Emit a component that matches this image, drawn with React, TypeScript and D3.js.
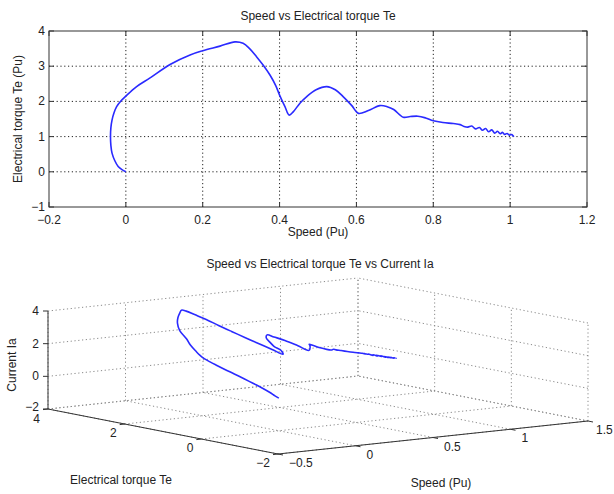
import React from 'react';
import * as d3 from 'd3';

// Trajectory: speed (pu), electrical torque Te (pu), current Ia
const speed = [
  0.000, -0.010, -0.020, -0.029, -0.036, -0.039, -0.040, -0.039, -0.036, -0.031,
  -0.024, -0.013, 0.000, 0.028, 0.062, 0.115, 0.167, 0.200, 0.245, 0.284,
  0.305, 0.322, 0.340, 0.358, 0.375, 0.390, 0.400, 0.414, 0.425, 0.436,
  0.453, 0.470, 0.495, 0.523, 0.545, 0.566, 0.588, 0.605, 0.631, 0.661,
  0.680, 0.697, 0.722, 0.740, 0.760, 0.780, 0.800, 0.825, 0.852, 0.870,
  0.880, 0.890, 0.900, 0.910, 0.920, 0.928, 0.936, 0.944, 0.952, 0.960,
  0.967, 0.974, 0.980, 0.986, 0.992, 0.998, 1.004, 1.008, 1.010,
];
const torque = [
  0.00, 0.06, 0.15, 0.32, 0.53, 0.75, 1.00, 1.25, 1.47, 1.67,
  1.85, 2.01, 2.15, 2.42, 2.66, 3.05, 3.32, 3.44, 3.57, 3.69,
  3.65, 3.50, 3.27, 3.02, 2.75, 2.45, 2.18, 1.85, 1.61, 1.71,
  1.95, 2.13, 2.33, 2.42, 2.33, 2.13, 1.88, 1.66, 1.74, 1.88,
  1.85, 1.77, 1.55, 1.57, 1.58, 1.53, 1.45, 1.40, 1.37, 1.34,
  1.29, 1.27, 1.30, 1.22, 1.26, 1.18, 1.23, 1.14, 1.19, 1.10,
  1.15, 1.08, 1.12, 1.06, 1.09, 1.04, 1.06, 1.02, 1.03,
];
const current = [
  0.00, 0.12, 0.29, 0.50, 0.70, 0.88, 1.06, 1.22, 1.36, 1.48,
  1.59, 1.72, 1.85, 2.11, 2.35, 2.62, 2.90, 3.15, 3.35, 3.40,
  3.34, 3.18, 2.97, 2.70, 2.44, 2.18, 1.97, 1.71, 1.52, 1.70,
  1.80, 1.96, 2.12, 2.23, 2.12, 1.98, 1.75, 1.55, 1.78, 1.76,
  1.68, 1.58, 1.50, 1.52, 1.46, 1.42, 1.38, 1.33, 1.28, 1.25,
  1.22, 1.20, 1.19, 1.13, 1.15, 1.10, 1.12, 1.06, 1.09, 1.02,
  1.05, 1.00, 1.02, 0.98, 0.99, 0.96, 0.97, 0.95, 0.95,
];

const xTicks2D = [-0.2, 0, 0.2, 0.4, 0.6, 0.8, 1, 1.2];
const yTicks2D = [-1, 0, 1, 2, 3, 4];
const speedTicks3D = [-0.5, 0, 0.5, 1, 1.5];
const torqueTicks3D = [-2, 0, 2, 4];
const currentTicks3D = [-2, 0, 2, 4];

const FONT = "'Liberation Sans', Arial, Helvetica, sans-serif";
const BLUE = '#2a2aff';
const fmt = (v: number) => (v < 0 ? '\u2212' : '') + String(Math.abs(v));

function TopChart() {
  const L = 49, R = 587, T = 31, B = 207;
  const x = d3.scaleLinear().domain([-0.2, 1.2]).range([L, R]);
  const y = d3.scaleLinear().domain([-1, 4]).range([B, T]);
  const pts = speed.map((s, i) => [x(s), y(torque[i])] as [number, number]);
  const line = d3.line().curve(d3.curveCatmullRom.alpha(0.5))(pts) || '';
  const tk = 5;
  return (
    <g>
      {xTicks2D.slice(1, -1).map((v) => (
        <line key={'gx' + v} x1={x(v)} x2={x(v)} y1={T} y2={B} stroke="#222" strokeWidth={1} strokeDasharray="1.2,2.6" />
      ))}
      {yTicks2D.slice(1, -1).map((v) => (
        <line key={'gy' + v} x1={L} x2={R} y1={y(v)} y2={y(v)} stroke="#222" strokeWidth={1} strokeDasharray="1.2,2.6" />
      ))}
      {xTicks2D.map((v) => (
        <g key={'tx' + v}>
          <line x1={x(v)} x2={x(v)} y1={B} y2={B - tk} stroke="#333" />
          <line x1={x(v)} x2={x(v)} y1={T} y2={T + tk} stroke="#333" />
          <text x={x(v)} y={224} textAnchor="middle" fontSize={12} fontFamily={FONT} fill="#222">{fmt(v)}</text>
        </g>
      ))}
      {yTicks2D.map((v) => (
        <g key={'ty' + v}>
          <line x1={L} x2={L + tk} y1={y(v)} y2={y(v)} stroke="#333" />
          <line x1={R} x2={R - tk} y1={y(v)} y2={y(v)} stroke="#333" />
          <text x={45} y={y(v) + 4} textAnchor="end" fontSize={12} fontFamily={FONT} fill="#222">{fmt(v)}</text>
        </g>
      ))}
      <rect x={L} y={T} width={R - L} height={B - T} fill="none" stroke="#333" strokeWidth={1} />
      <path d={line} fill="none" stroke={BLUE} strokeWidth={1.6} strokeLinejoin="round" />
      <text x={(L + R) / 2} y={20} textAnchor="middle" fontSize={12} fontFamily={FONT} fill="#222">Speed vs Electrical torque Te</text>
      <text x={(L + R) / 2} y={236} textAnchor="middle" fontSize={12} fontFamily={FONT} fill="#222">Speed (Pu)</text>
      <text transform={`translate(22,${(T + B) / 2}) rotate(-90)`} textAnchor="middle" fontSize={12} fontFamily={FONT} fill="#222">Electrical torque Te (Pu)</text>
    </g>
  );
}

function Chart3D() {
  // corners of the floor (z = min)
  const O = { x: 278, y: 454 }; // speed min, Te min
  const SX = { x: 588, y: 421 }; // speed max, Te min
  const TY = { x: 48, y: 409 }; // speed min, Te max
  const H = 98;
  const su = d3.scaleLinear().domain([-0.5, 1.5]).range([0, 1]);
  const tv = d3.scaleLinear().domain([-2, 4]).range([0, 1]);
  const zw = d3.scaleLinear().domain([-2, 4]).range([0, 1]);
  const proj = (s: number, t: number, z: number): [number, number] => {
    const u = su(s), v = tv(t), w = zw(z);
    return [
      O.x + u * (SX.x - O.x) + v * (TY.x - O.x),
      O.y + u * (SX.y - O.y) + v * (TY.y - O.y) - w * H,
    ];
  };
  const sMin = -0.5, sMax = 1.5, tMin = -2, tMax = 4, zMin = -2, zMax = 4;
  const grid: [number, number, number, number][] = [];
  const seg = (a: [number, number], b: [number, number]) => grid.push([a[0], a[1], b[0], b[1]]);
  // back wall Te = max
  speedTicks3D.forEach((s) => seg(proj(s, tMax, zMin), proj(s, tMax, zMax)));
  currentTicks3D.forEach((z) => seg(proj(sMin, tMax, z), proj(sMax, tMax, z)));
  // back wall speed = max
  torqueTicks3D.forEach((t) => seg(proj(sMax, t, zMin), proj(sMax, t, zMax)));
  currentTicks3D.forEach((z) => seg(proj(sMax, tMin, z), proj(sMax, tMax, z)));
  // floor
  speedTicks3D.forEach((s) => seg(proj(s, tMin, zMin), proj(s, tMax, zMin)));
  torqueTicks3D.forEach((t) => seg(proj(sMin, t, zMin), proj(sMax, t, zMin)));

  const pts = speed.map((s, i) => proj(s, torque[i], current[i]));
  const line = d3.line().curve(d3.curveCatmullRom.alpha(0.5))(pts) || '';

  const zA = proj(sMin, tMax, zMin), zB = proj(sMin, tMax, zMax);
  const tA = proj(sMin, tMax, zMin), tB = proj(sMin, tMin, zMin);
  const sA = proj(sMin, tMin, zMin), sB = proj(sMax, tMin, zMin);

  return (
    <g>
      {grid.map((g, i) => (
        <line key={'g' + i} x1={g[0]} y1={g[1]} x2={g[2]} y2={g[3]} stroke="#8a8a8a" strokeWidth={1} strokeDasharray="1.2,2.6" />
      ))}
      <line x1={zA[0]} y1={zA[1]} x2={zB[0]} y2={zB[1]} stroke="#333" />
      <line x1={tA[0]} y1={tA[1]} x2={tB[0]} y2={tB[1]} stroke="#333" />
      <line x1={sA[0]} y1={sA[1]} x2={sB[0]} y2={sB[1]} stroke="#333" />
      {currentTicks3D.map((z) => {
        const p = proj(sMin, tMax, z);
        return (
          <g key={'zt' + z}>
            <line x1={p[0] - 5} x2={p[0]} y1={p[1]} y2={p[1]} stroke="#333" />
            <text x={39} y={p[1] + (z === zMin ? 2 : 4)} textAnchor="end" fontSize={12} fontFamily={FONT} fill="#222">{fmt(z)}</text>
          </g>
        );
      })}
      {torqueTicks3D.map((t) => {
        const p = proj(sMin, t, zMin);
        return (
          <g key={'tt' + t}>
            <line x1={p[0]} x2={p[0] - 5} y1={p[1]} y2={p[1] + 0.6} stroke="#333" />
            <text x={p[0] - 8} y={p[1] + (t === tMax ? 14 : 13)} textAnchor="end" fontSize={12} fontFamily={FONT} fill="#222">{fmt(t)}</text>
          </g>
        );
      })}
      {speedTicks3D.map((s) => {
        const p = proj(s, tMin, zMin);
        return (
          <g key={'st' + s}>
            <line x1={p[0]} x2={p[0] + 5} y1={p[1]} y2={p[1] + 1} stroke="#333" />
            <text x={p[0] + (s === sMax ? 8 : 11)} y={p[1] + 13} textAnchor="start" fontSize={12} fontFamily={FONT} fill="#222">{fmt(s)}</text>
          </g>
        );
      })}
      <path d={line} fill="none" stroke={BLUE} strokeWidth={1.6} strokeLinejoin="round" />
      <text x={320} y={268} textAnchor="middle" fontSize={12} fontFamily={FONT} fill="#222">Speed vs Electrical torque Te vs Current Ia</text>
      <text x={121} y={484} textAnchor="middle" fontSize={12} fontFamily={FONT} fill="#222">Electrical torque Te</text>
      <text x={441} y={487} textAnchor="middle" fontSize={12} fontFamily={FONT} fill="#222">Speed (Pu)</text>
      <text transform="translate(16,365) rotate(-90)" textAnchor="middle" fontSize={12} fontFamily={FONT} fill="#222">Current Ia</text>
    </g>
  );
}

export default function App() {
  return (
    <svg width={614} height={494} style={{ position: 'absolute', left: 0, top: 0, background: '#fff' }}>
      <rect x={0} y={0} width={614} height={494} fill="#fff" />
      <TopChart />
      <Chart3D />
    </svg>
  );
}
